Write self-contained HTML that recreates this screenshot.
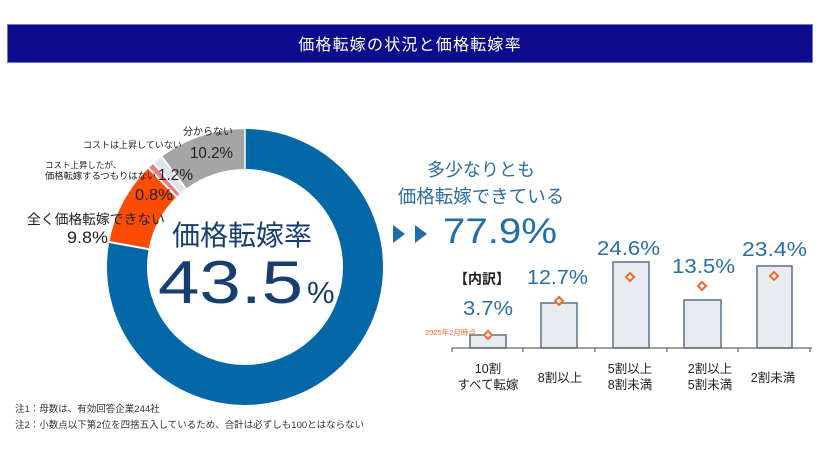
<!DOCTYPE html>
<html><head><meta charset="utf-8"><style>
html,body{margin:0;padding:0;background:#fff;}
svg{display:block;}
text{font-family:"Liberation Sans","Noto Sans CJK JP",sans-serif;}
</style></head><body>
<svg width="820" height="462" viewBox="0 0 820 462" xmlns="http://www.w3.org/2000/svg">
<rect width="820" height="462" fill="#fff"/>
<!-- title bar -->
<rect x="7.5" y="24.5" width="805" height="38" fill="#0c0c8c" stroke="#6a78c8" stroke-width="1"/>
<text x="410" y="50" text-anchor="middle" fill="#fff" font-size="16" letter-spacing="1.2">価格転嫁の状況と価格転嫁率</text>

<!-- donut -->
<g transform="rotate(-90 245 267)" fill="none" stroke-width="40">
<circle cx="245" cy="267" r="118" stroke="#0468a8" stroke-dasharray="577.57 163.85" stroke-dashoffset="0"/>
<circle cx="245" cy="267" r="118" stroke="#fb4c06" stroke-dasharray="72.66 668.76" stroke-dashoffset="-577.57"/>
<circle cx="245" cy="267" r="118" stroke="#ee7a82" stroke-dasharray="5.93 735.49" stroke-dashoffset="-650.23"/>
<circle cx="245" cy="267" r="118" stroke="#dde5ec" stroke-dasharray="8.90 732.52" stroke-dashoffset="-656.16"/>
<circle cx="245" cy="267" r="118" stroke="#a5a5a5" stroke-dasharray="76.37 665.05" stroke-dashoffset="-665.05"/>
</g>
<g stroke="#fff" stroke-width="2">
<line x1="149.6" y1="249.4" x2="108.3" y2="241.8"/>
<line x1="177.3" y1="197.5" x2="148.0" y2="167.5"/>
<line x1="180.9" y1="194.2" x2="153.1" y2="162.7"/>
<line x1="186.5" y1="189.6" x2="161.2" y2="156.1"/>
<line x1="245" y1="170" x2="245" y2="128" stroke-width="1.5"/>
</g>

<!-- donut center -->
<text x="242" y="245" text-anchor="middle" fill="#173e70" font-size="28">価格転嫁率</text>
<text x="158" y="303" fill="#173e70" font-size="60" textLength="145" lengthAdjust="spacingAndGlyphs">43.5</text>
<text x="307" y="303" fill="#173e70" font-size="31">%</text>

<!-- donut labels -->
<text x="183" y="135" fill="#222" font-size="10">分からない</text>
<text x="190" y="158" fill="#222" font-size="16" textLength="43" lengthAdjust="spacingAndGlyphs">10.2%</text>
<text x="83" y="148" fill="#222" font-size="9">コストは上昇していない</text>
<text x="45" y="168" fill="#222" font-size="8.5">コスト上昇したが、</text>
<text x="45" y="179" fill="#222" font-size="9.3">価格転嫁するつもりはない</text>
<text x="158" y="180" fill="#222" font-size="16" textLength="35" lengthAdjust="spacingAndGlyphs">1.2%</text>
<text x="135" y="200" fill="#222" font-size="16" textLength="38" lengthAdjust="spacingAndGlyphs">0.8%</text>
<text x="27" y="224" fill="#222" font-size="13.8">全く価格転嫁できない</text>
<text x="67" y="243" fill="#222" font-size="17" textLength="41" lengthAdjust="spacingAndGlyphs">9.8%</text>

<!-- right header -->
<text x="481" y="176" text-anchor="middle" fill="#2d6ca3" font-size="18">多少なりとも</text>
<text x="481" y="203" text-anchor="middle" fill="#2d6ca3" font-size="18.5">価格転嫁できている</text>
<polygon points="393,225 405,234 393,243" fill="#1e6ea8"/>
<polygon points="415,225 427,234 415,243" fill="#1e6ea8"/>
<text x="443" y="243" fill="#1e6ea8" font-size="35" textLength="114" lengthAdjust="spacingAndGlyphs">77.9%</text>
<text x="482" y="284" text-anchor="middle" fill="#222" font-size="14" font-weight="bold">【内訳】</text>

<!-- bars -->
<g fill="#e8ecf1" stroke="#5c6f86" stroke-width="1.5">
<rect x="470" y="335" width="36" height="13"/>
<rect x="541" y="303" width="36" height="45"/>
<rect x="613" y="262" width="36" height="86"/>
<rect x="684" y="300" width="37" height="48"/>
<rect x="757" y="266" width="35" height="82"/>
</g>
<g stroke="#666" stroke-width="1.2">
<line x1="452" y1="348" x2="812" y2="348"/>
<line x1="452" y1="348" x2="452" y2="352"/>
<line x1="523" y1="348" x2="523" y2="352"/>
<line x1="595" y1="348" x2="595" y2="352"/>
<line x1="667" y1="348" x2="667" y2="352"/>
<line x1="738" y1="348" x2="738" y2="352"/>
<line x1="810" y1="348" x2="810" y2="352"/>
</g>
<g fill="#fff" stroke="#f2692c" stroke-width="2">
<polygon points="488,331 492,335 488,339 484,335"/>
<polygon points="559,297 563,301 559,305 555,301"/>
<polygon points="630,273 634,277 630,281 626,277"/>
<polygon points="702,282 706,286 702,290 698,286"/>
<polygon points="774,272 778,276 774,280 770,276"/>
</g>
<text x="425" y="335" fill="#f0642a" font-size="7.5">2025年2月時点</text>

<g fill="#2a6da8" font-size="20">
<text x="463" y="315" textLength="50" lengthAdjust="spacingAndGlyphs">3.7%</text>
<text x="527" y="284" textLength="61" lengthAdjust="spacingAndGlyphs">12.7%</text>
<text x="597" y="255" textLength="63" lengthAdjust="spacingAndGlyphs">24.6%</text>
<text x="672" y="273" textLength="63" lengthAdjust="spacingAndGlyphs">13.5%</text>
<text x="742" y="256" textLength="65" lengthAdjust="spacingAndGlyphs">23.4%</text>
</g>

<g fill="#222" font-size="12.5" text-anchor="middle">
<text x="488" y="373">10割</text>
<text x="488" y="389">すべて転嫁</text>
<text x="560" y="382">8割以上</text>
<text x="630" y="373">5割以上</text>
<text x="630" y="389">8割未満</text>
<text x="710" y="373">2割以上</text>
<text x="710" y="389">5割未満</text>
<text x="773" y="382">2割未満</text>
</g>

<!-- notes -->
<text x="15" y="412" fill="#333" font-size="9.5">注1：母数は、有効回答企業244社</text>
<text x="15" y="428" fill="#333" font-size="9.5">注2：小数点以下第2位を四捨五入しているため、合計は必ずしも100とはならない</text>
</svg>
</body></html>
